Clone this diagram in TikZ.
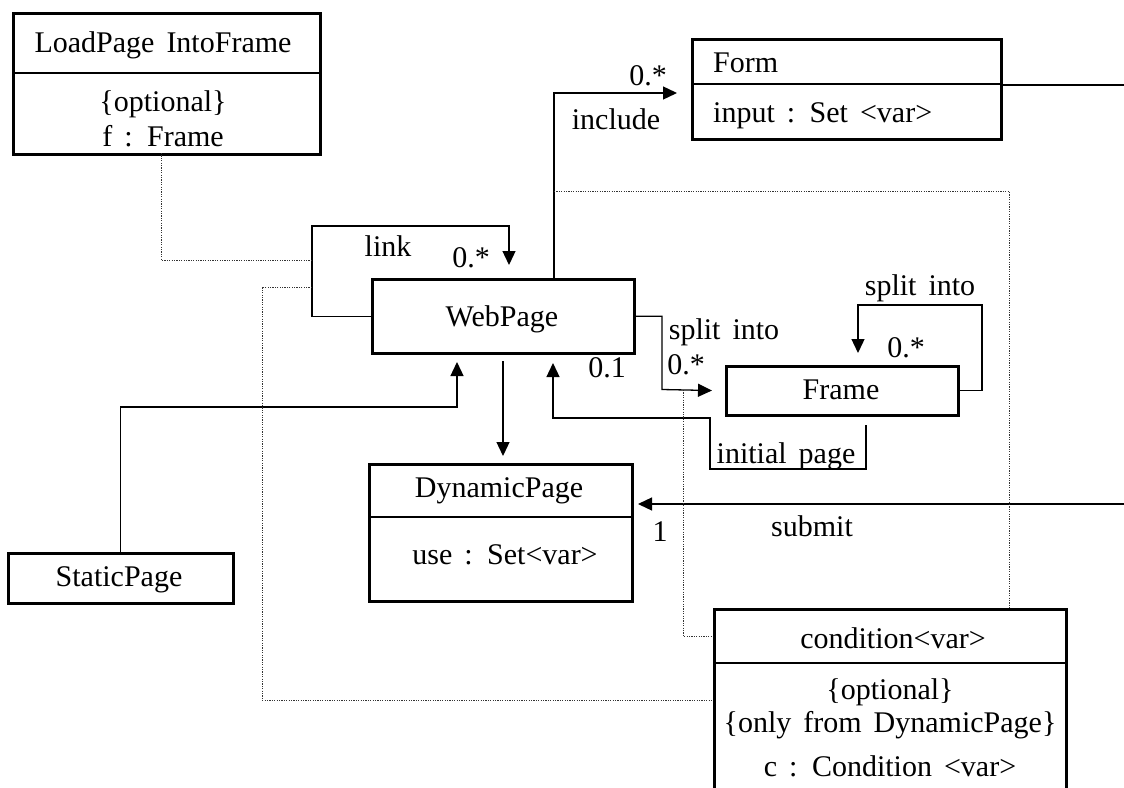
\documentclass[tikz,border=0pt]{standalone}
\usepackage{fontspec}
\setmainfont{Liberation Serif}[WordSpace=1.6]
\usetikzlibrary{arrows.meta}
\begin{document}
\begin{tikzpicture}[x=1pt,y=-1pt,
  box/.style={draw,line width=2.6pt,inner sep=0pt,anchor=north west},
  divider/.style={line width=2.6pt},
  conn/.style={line width=1.3pt},
  arr/.style={-{Triangle[length=14pt,width=13pt]}},
  dots/.style={line width=1pt,dash pattern=on 1.2pt off 1.2pt,black!80},
  txt/.style={font=\fontsize{30}{34}\selectfont,inner sep=0pt,text height=20pt,text depth=6pt}
]
\useasboundingbox (0,0) rectangle (1124,787);
\clip (0,0) rectangle (1124,787);

% ---------- boxes ----------
\node[box,minimum width=307pt,minimum height=141pt] (load) at (12,12) {};
\draw[divider] (12,73) -- (319,73);
\node[box,minimum width=309pt,minimum height=100pt] (form) at (691,38) {};
\draw[divider] (691,84) -- (1000,84);
\node[box,minimum width=262pt,minimum height=74pt] (web) at (371,278) {};
\node[box,minimum width=232pt,minimum height=49pt] (frame) at (725,365) {};
\node[box,minimum width=263pt,minimum height=137pt] (dyn) at (368,463) {};
\draw[divider] (368,517) -- (631,517);
\node[box,minimum width=225pt,minimum height=50pt] (static) at (7,552) {};
\node[box,minimum width=352pt,minimum height=220pt] (cond) at (713,608) {};
\draw[divider] (713,663) -- (1065,663);

% ---------- box texts ----------
\node[txt] (tload) at (163,45) {LoadPage IntoFrame};
\node[txt] (tload2) at (163,104) {\{optional\}};
\node[txt] (tload3) at (163,139) {f : Frame};
\node[txt,anchor=west] (tform) at (713,65) {Form};
\node[txt,anchor=west] (tform2) at (713,115) {input : Set <var>};
\node[txt] (tweb) at (502,319) {WebPage};
\node[txt] (tframe) at (841,392) {Frame};
\node[txt] (tdyn) at (499,490) {DynamicPage};
\node[txt] (tdyn2) at (505,557) {use : Set<var>};
\node[txt] (tstatic) at (119,579) {StaticPage};
\node[txt] (tcond) at (893,641) {condition<var>};
\node[txt] (tcond2) at (890,692) {\{optional\}};
\node[txt] (tcond3) at (890,725) {\{only from DynamicPage\}};
\node[txt] (tcond4) at (890,769) {c : Condition <var>};

% ---------- connectors ----------
% link (self association of WebPage)
\coordinate (linkend) at (509,265);
\draw[conn,arr] (web.west) -| (312,226) -| (linkend);
\node[txt] (llink) at (388,249) {link};
\node[txt] (llink2) at (471,260) {0.*};

% include
\coordinate (incend) at (677,93);
\draw[conn,arr] (554,278) |- (incend);
\node[txt] (linc) at (616,122) {include};
\node[txt] (linc2) at (648,78) {0.*};

% split into (WebPage -> Frame)
\draw[conn,arr,shorten >=13pt] (web.east) -| (662,389.5) -- (frame.west);
\node[txt] (lsplit) at (724,332) {split into};
\node[txt] (lsplit2) at (686,367) {0.*};
\node[txt] (lsplit3) at (607,370) {0.1};

% split into (Frame self loop)
\draw[conn,arr] (frame.east) -| (982,305) -| (858,353);
\node[txt] (lfs) at (920,288) {split into};
\node[txt] (lfs2) at (906,350) {0.*};

% initial page
\draw[conn,arr] (866,425) |- (710,469) |- (553,418) -- (553,363);
\node[txt] (linit) at (786,456) {initial page};

% StaticPage -> WebPage
\draw[conn,arr] (static.north) |- (457,407) -- (457,362);

% WebPage -> DynamicPage
\draw[conn,arr] (503,361) -- (503,456);

% Form -> (off page) -> submit -> DynamicPage
\draw[conn] (1000,85) -- (1124,85);
\draw[conn,arr] (1124,504) -- (638,504);
\node[txt] (lsub) at (812,529) {submit};
\node[txt] (lsub2) at (660,534) {1};

% ---------- dotted association-class links ----------
\draw[dots] (161,153) |- (312,260);
\draw[dots] (312,287) -| (262,700) -- (713,700);
\draw[dots] (554,191) -| (1009,608);
\draw[dots] (683,390) |- (713,636);
\end{tikzpicture}
\end{document}
